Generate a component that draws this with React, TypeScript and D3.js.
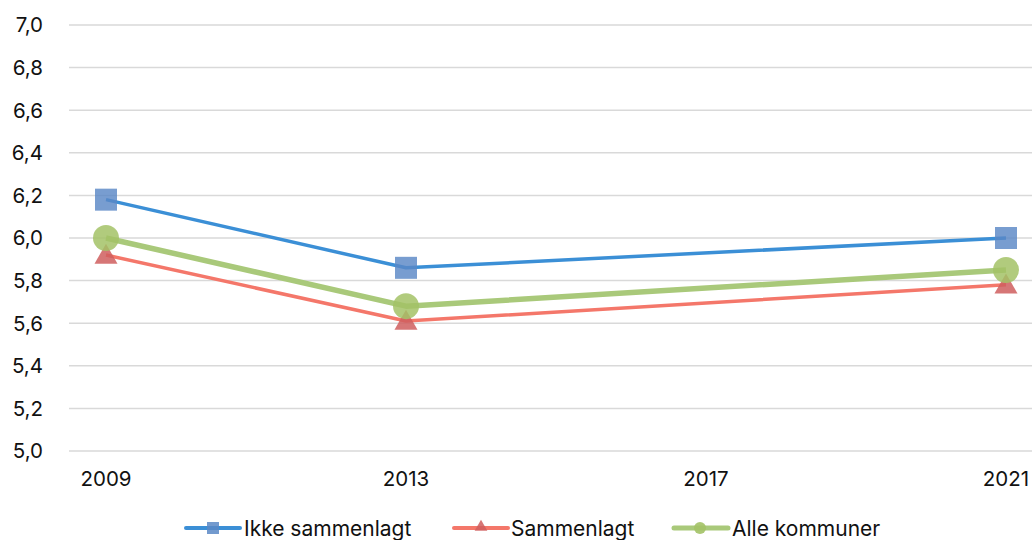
import React from "react";
import * as d3 from "d3";

const years = [2009, 2013, 2017, 2021];
const dataYears = [2009, 2013, 2021];
const ikkeSammenlagt = [6.18, 5.86, 6.0];
const sammenlagt = [5.92, 5.61, 5.78];
const alleKommuner = [6.0, 5.68, 5.85];
const yTicks = [5.0, 5.2, 5.4, 5.6, 5.8, 6.0, 6.2, 6.4, 6.6, 6.8, 7.0];
const seriesNames = ["Ikke sammenlagt", "Sammenlagt", "Alle kommuner"];

const W = 1032;
const H = 540;
const FONT = "Inter, 'Noto Sans', sans-serif";

export default function App() {
  const x = d3.scaleLinear().domain([2009, 2021]).range([106, 1006]);
  const y = d3.scaleLinear().domain([5.0, 7.0]).range([451, 25]);
  const line = d3
    .line<[number, number]>()
    .x((d) => x(d[0]))
    .y((d) => y(d[1]));
  const pts = (vals: number[]) => dataYears.map((yr, i) => [yr, vals[i]] as [number, number]);
  const fmt = (v: number) => v.toFixed(1).replace(".", ",");
  const tri = d3.symbol().type(d3.symbolTriangle).size(230);

  return (
    <div style={{ position: "absolute", left: 0, top: 0 }}>
      <svg width={W} height={H} style={{ display: "block", fontFamily: FONT }}>
        <rect width={W} height={H} fill="#fff" />
        {yTicks.map((t) => (
          <g key={t}>
            <line x1={69} x2={W} y1={y(t)} y2={y(t)} stroke="#d9d9d9" strokeWidth={1.5} />
            <text x={43} y={y(t)} dy="0.36em" textAnchor="end" fontSize={20.5} fill="#111">
              {fmt(t)}
            </text>
          </g>
        ))}
        {years.map((yr) => (
          <text key={yr} x={x(yr)} y={479} dy="0.36em" textAnchor="middle" fontSize={20.5} fill="#111">
            {yr}
          </text>
        ))}
        <path d={line(pts(ikkeSammenlagt)) || ""} fill="none" stroke="#3b8fd6" strokeWidth={3.5} strokeLinejoin="round" />
        <path d={line(pts(sammenlagt)) || ""} fill="none" stroke="#f4776a" strokeWidth={3.5} strokeLinejoin="round" />
        <path d={line(pts(alleKommuner)) || ""} fill="none" stroke="#a9c97a" strokeWidth={5.5} strokeLinejoin="round" />
        {pts(ikkeSammenlagt).map((d, i) => (
          <rect key={"s" + i} x={x(d[0]) - 11} y={y(d[1]) - 11} width={22} height={22} fill="#5a88c6" opacity={0.82} />
        ))}
        {pts(sammenlagt).map((d, i) => (
          <path key={"t" + i} d={tri() || ""} transform={`translate(${x(d[0])},${y(d[1]) + 2})`} fill="#cf5e5e" opacity={0.85} />
        ))}
        {pts(alleKommuner).map((d, i) => (
          <circle key={"c" + i} cx={x(d[0])} cy={y(d[1])} r={13} fill="#a3c266" opacity={0.85} />
        ))}
        {/* legend */}
        <g>
          <line x1={186} x2={240} y1={528} y2={528} stroke="#3b8fd6" strokeWidth={4} strokeLinecap="round" />
          <rect x={207} y={522} width={12} height={12} fill="#5a88c6" opacity={0.85} />
          <text x={244} y={528} dy="0.36em" fontSize={21} fill="#111">{seriesNames[0]}</text>
          <line x1={454} x2={508} y1={528} y2={528} stroke="#f4776a" strokeWidth={4} strokeLinecap="round" />
          <path d={d3.symbol().type(d3.symbolTriangle).size(70)() || ""} transform="translate(481,527)" fill="#cf5e5e" opacity={0.85} />
          <text x={511} y={528} dy="0.36em" fontSize={21} fill="#111">{seriesNames[1]}</text>
          <line x1={674} x2={728} y1={528} y2={528} stroke="#a9c97a" strokeWidth={5} strokeLinecap="round" />
          <circle cx={700} cy={528} r={6} fill="#a3c266" opacity={0.9} />
          <text x={732} y={528} dy="0.36em" fontSize={21} fill="#111">{seriesNames[2]}</text>
        </g>
      </svg>
    </div>
  );
}
